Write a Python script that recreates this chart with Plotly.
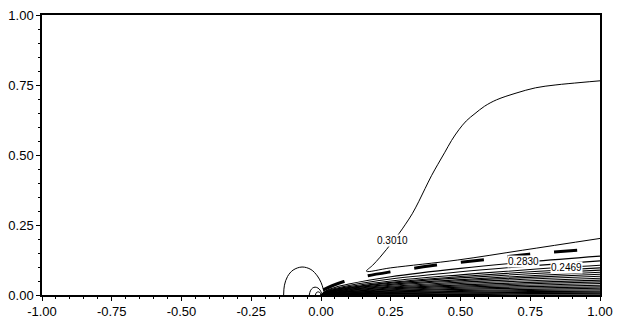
import plotly.graph_objects as go

# ---- data ----
# 0.3010 contour (upper curve, pointed tip, lower branch)
c3010_x = [1.0, 0.932, 0.839, 0.769, 0.699, 0.629, 0.586, 0.552, 0.521, 0.494, 0.468, 0.444, 0.419, 0.396, 0.373,
           0.350, 0.327, 0.303, 0.280, 0.258, 0.235, 0.210, 0.185, 0.163,
           0.25, 0.49, 0.723, 1.0]
c3010_y = [0.765, 0.759, 0.750, 0.740, 0.721, 0.697, 0.674, 0.648, 0.622, 0.590, 0.552, 0.510, 0.467, 0.426, 0.380,
           0.333, 0.290, 0.253, 0.220, 0.192, 0.163, 0.133, 0.106, 0.085,
           0.097, 0.125, 0.160, 0.202]

# dashed thick line
dash_x = [0.008, 0.04, 0.082, 0.15, 0.245, 0.414, 0.60, 0.746, 1.0]
dash_y = [0.018, 0.033, 0.048, 0.065, 0.082, 0.107, 0.128, 0.146, 0.166]

# fan of contours emanating from the origin
fan_x = [0.0, 0.02, 0.05, 0.10, 0.25, 0.50, 0.75, 1.0]
fan_y = [
    [0.0, 0.016, 0.027, 0.039, 0.065, 0.095, 0.119, 0.139],
    [0.0, 0.014, 0.023, 0.034, 0.057, 0.083, 0.104, 0.122],
    [0.0, 0.012, 0.020, 0.030, 0.050, 0.072, 0.091, 0.106],
    [0.0, 0.011, 0.019, 0.027, 0.045, 0.066, 0.083, 0.097],
    [0.0, 0.010, 0.017, 0.025, 0.042, 0.061, 0.076, 0.089],
    [0.0, 0.009, 0.016, 0.023, 0.038, 0.055, 0.069, 0.081],
    [0.0, 0.009, 0.014, 0.021, 0.035, 0.051, 0.063, 0.074],
    [0.0, 0.008, 0.013, 0.019, 0.031, 0.046, 0.057, 0.067],
    [0.0, 0.007, 0.012, 0.017, 0.028, 0.041, 0.051, 0.060],
    [0.0, 0.006, 0.010, 0.015, 0.025, 0.036, 0.045, 0.053],
    [0.0, 0.005, 0.009, 0.013, 0.022, 0.032, 0.040, 0.047],
    [0.0, 0.005, 0.008, 0.012, 0.019, 0.028, 0.035, 0.041],
    [0.0, 0.004, 0.007, 0.010, 0.016, 0.024, 0.030, 0.035],
    [0.0, 0.003, 0.006, 0.008, 0.014, 0.020, 0.025, 0.029],
    [0.0, 0.003, 0.005, 0.007, 0.011, 0.016, 0.020, 0.024],
    [0.0, 0.002, 0.004, 0.005, 0.009, 0.013, 0.016, 0.019],
    [0.0, 0.002, 0.003, 0.004, 0.007, 0.010, 0.012, 0.014],
    [0.0, 0.001, 0.002, 0.003, 0.005, 0.007, 0.009, 0.010],
    [0.0, 0.001, 0.001, 0.002, 0.003, 0.004, 0.005, 0.006],
    [0.0, 0.000, 0.001, 0.001, 0.001, 0.002, 0.003, 0.003],
]

# arcs near the leading edge
arc_big_x = [-0.134, -0.131, -0.120, -0.100, -0.068, -0.036, -0.013, 0.0, 0.008, 0.010]
arc_big_y = [0.0, 0.035, 0.066, 0.089, 0.100, 0.091, 0.068, 0.045, 0.022, 0.012]
arc_small_x = [-0.042, -0.038, -0.030, -0.021, -0.011, -0.003, 0.002]
arc_small_y = [0.0, 0.015, 0.025, 0.028, 0.025, 0.017, 0.006]
arc_tiny_x = [-0.020, -0.016, -0.008, -0.002, 0.0]
arc_tiny_y = [0.0, 0.009, 0.011, 0.006, 0.0]

labels_text = ["0.3010", "0.2830", "0.2469"]
labels_x = [0.256, 0.724, 0.881]
labels_y = [0.194, 0.118, 0.097]

tick_vals = [-1.0, -0.75, -0.5, -0.25, 0.0, 0.25, 0.5, 0.75, 1.0]
tick_text = ["-1.00", "-0.75", "-0.50", "-0.25", "0.00", "0.25", "0.50", "0.75", "1.00"]
ytick_vals = [0.0, 0.25, 0.5, 0.75, 1.0]
ytick_text = ["0.00", "0.25", "0.50", "0.75", "1.00"]

fig = go.Figure()

for fy in fan_y:
    fig.add_trace(go.Scatter(x=fan_x, y=fy, mode="lines", line=dict(color="black", width=1.1, shape="spline"),
                             hoverinfo="skip"))

fig.add_trace(go.Scatter(x=c3010_x, y=c3010_y, mode="lines",
                         line=dict(color="black", width=1, shape="spline", smoothing=1.0), hoverinfo="skip"))
fig.add_trace(go.Scatter(x=dash_x, y=dash_y, mode="lines",
                         line=dict(color="black", width=3, dash="23px,24px", shape="spline"), hoverinfo="skip"))
for ax_, ay_ in [(arc_big_x, arc_big_y), (arc_small_x, arc_small_y), (arc_tiny_x, arc_tiny_y)]:
    fig.add_trace(go.Scatter(x=ax_, y=ay_, mode="lines", line=dict(color="black", width=1, shape="spline"),
                             hoverinfo="skip"))

for t, lx, ly in zip(labels_text, labels_x, labels_y):
    fig.add_annotation(x=lx, y=ly, text=t, showarrow=False, bgcolor="white", borderpad=0,
                       font=dict(family="Liberation Sans, Arial", size=10, color="black"))

axis_common = dict(showgrid=False, zeroline=False, showline=True, linecolor="black", linewidth=1.5,
                   mirror=True, ticks="outside", ticklen=4, tickwidth=1, tickcolor="black",
                   tickfont=dict(family="Liberation Sans, Arial", size=13, color="black"),
                   minor=dict(dtick=0.05, ticks="outside", ticklen=2, tickwidth=1, tickcolor="black", showgrid=False))

fig.update_layout(
    width=621, height=327, margin=dict(l=34, r=15, t=8, b=31),
    paper_bgcolor="white", plot_bgcolor="white", showlegend=False,
    xaxis=dict(range=[-1, 1], tickvals=tick_vals, ticktext=tick_text, **axis_common),
    yaxis=dict(range=[0, 1], tickvals=ytick_vals, ticktext=ytick_text, **axis_common),
)

fig.write_html("out.html", config={"displayModeBar": False})
